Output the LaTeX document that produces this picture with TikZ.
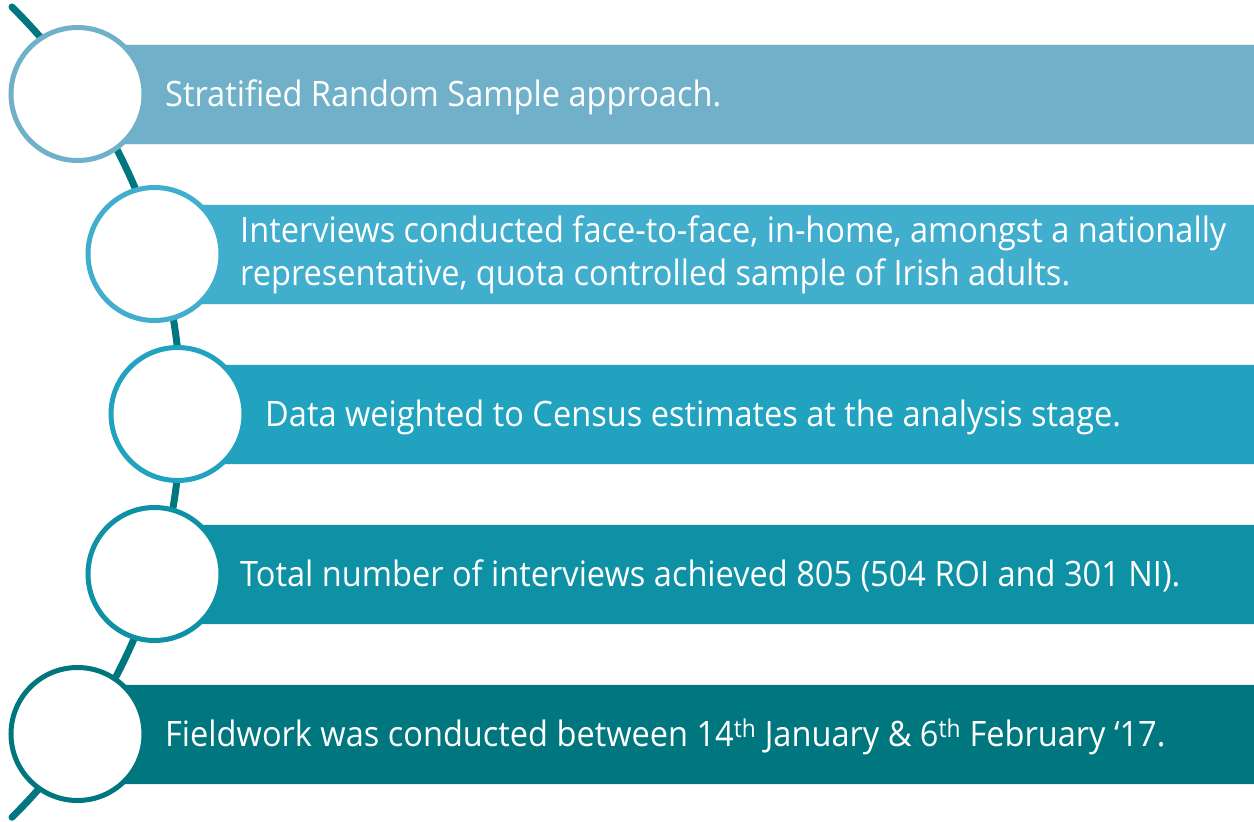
\documentclass[tikz,border=0pt]{standalone}
\usepackage{fontspec}
\setmainfont{Open Sans}[FakeStretch=0.93]
\definecolor{cA}{HTML}{70B1C9}
\definecolor{cB}{HTML}{41AECD}
\definecolor{cC}{HTML}{21A3C0}
\definecolor{cD}{HTML}{0E90A5}
\definecolor{cE}{HTML}{00767E}
\definecolor{spine}{HTML}{00767E}
\begin{document}
\begin{tikzpicture}[x=1bp,y=-1bp,
  bar/.style={draw=white!85!gray,line width=0.8bp},
  ring/.style={circle,fill=white,line width=5bp,minimum size=133bp,inner sep=0pt},
  label/.style={anchor=base west,text=white,inner sep=0pt,font=\fontsize{35bp}{43bp}\selectfont,align=left},
  spineline/.style={draw=spine,line width=7bp,line cap=round}]
\useasboundingbox (0,0) rectangle (1254,822);
% bars
\fill[cA] (77,44) rectangle (1254,144);
\fill[cB] (154,204) rectangle (1254,304);
\fill[cC] (177,364) rectangle (1254,464);
\fill[cD] (154,524) rectangle (1254,624);
\fill[cE] (77,684) rectangle (1254,784);
\draw[bar] (77,44) -- (1254,44) (77,144) -- (1254,144);
\draw[bar] (154,204) -- (1254,204) (154,304) -- (1254,304);
\draw[bar] (177,364) -- (1254,364) (177,464) -- (1254,464);
\draw[bar] (154,524) -- (1254,524) (154,624) -- (1254,624);
\draw[bar] (77,684) -- (1254,684) (77,784) -- (1254,784);
% spine
\coordinate (top) at (12,7);
\draw[spineline] (top) arc[start angle=-45.3, end angle=45.3, radius=570];
% circles
\node[ring,draw=cA] (c1) at (77.5,94) {};
\node[ring,draw=cB] (c2) at (154.5,254) {};
\node[ring,draw=cC] (c3) at (177.5,414) {};
\node[ring,draw=cD] (c4) at (154.5,574) {};
\node[ring,draw=cE] (c5) at (77.5,734) {};
% texts
\node[label] (t1) at (165,107) {Stratified Random Sample approach.};
\node[label] (t2) at (240,242) {Interviews conducted face-to-face, in-home, amongst a nationally};
\node[label] (t2b) at (240,285) {representative, quota controlled sample of Irish adults.};
\node[label] (t3) at (265,426) {Data weighted to Census estimates at the analysis stage.};
\node[label] (t4) at (240,586) {Total number of interviews achieved 805 (504 ROI and 301 NI).};
\node[label] (t5) at (165,746) {Fieldwork was conducted between 14\textsuperscript{th} January \& 6\textsuperscript{th} February ‘17.};
\end{tikzpicture}
\end{document}
